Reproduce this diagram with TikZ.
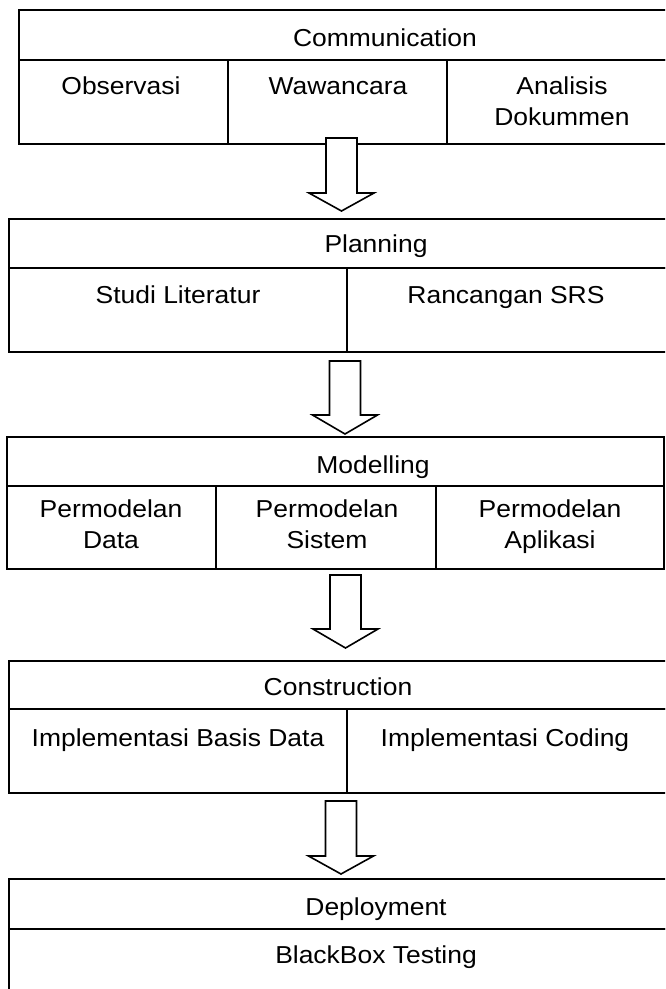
\documentclass[tikz,border=0pt]{standalone}
\usepackage{fontspec}
\setmainfont{Liberation Sans}[FakeStretch=1.08]
\begin{document}
\begin{tikzpicture}[x=1pt,y=-1pt,
  frame/.style={draw, line width=1.6pt, inner sep=0pt, outer sep=0pt, anchor=north west},
  lbl/.style={font=\fontsize{24.5}{31}\selectfont, inner sep=0pt, align=center},
  blockarrow/.style={draw, fill=white, line width=1.6pt, line join=miter},
  pics/downarrow/.style args={#1/#2}{code={
    \draw[blockarrow] (-15.5,0) -- (-15.5,#1) -- (-32.5,#1) -- (0,#2) -- (32.5,#1) -- (15.5,#1) -- (15.5,0) -- cycle;}}
]
\useasboundingbox (0,0) rectangle (665,989);
\clip (0,0) rectangle (665,989);
\fill[white] (0,0) rectangle (665,989);

% Communication
\node[frame, minimum width=741pt, minimum height=50pt] (comm) at (19,10) {};
\node[frame, minimum width=209pt, minimum height=84pt] (obs) at (19,60) {};
\node[frame, minimum width=219pt, minimum height=84pt] (waw) at (228,60) {};
\node[frame, minimum width=313pt, minimum height=84pt] (ana) at (447,60) {};
\node[lbl] (tcomm) at (385,40.6) {\strut Communication};
\node[lbl] (tobs) at (121,88.6) {\strut Observasi};
\node[lbl] (twaw) at (338,88.6) {\strut Wawancara};
\node[lbl] (tana) at (562,104.1) {\strut Analisis\\\strut Dokummen};

% Planning
\node[frame, minimum width=751pt, minimum height=49pt] (plan) at (9,219) {};
\node[frame, minimum width=338pt, minimum height=84pt] (studi) at (9,268) {};
\node[frame, minimum width=413pt, minimum height=84pt] (srs) at (347,268) {};
\node[lbl] (tplan) at (376,246.6) {\strut Planning};
\node[lbl] (tstudi) at (178,297.6) {\strut Studi Literatur};
\node[lbl] (tsrs) at (506,297.6) {\strut Rancangan SRS};

% Modelling
\node[frame, minimum width=657pt, minimum height=49pt] (model) at (7,437) {};
\node[frame, minimum width=209pt, minimum height=83pt] (mdata) at (7,486) {};
\node[frame, minimum width=220pt, minimum height=83pt] (msis) at (216,486) {};
\node[frame, minimum width=228pt, minimum height=83pt] (mapl) at (436,486) {};
\node[lbl] (tmodel) at (373,467.6) {\strut Modelling};
\node[lbl] (tmdata) at (111,527.1) {\strut Permodelan\\\strut Data};
\node[lbl] (tmsis) at (327,527.1) {\strut Permodelan\\\strut Sistem};
\node[lbl] (tmapl) at (550,527.1) {\strut Permodelan\\\strut Aplikasi};

% Construction
\node[frame, minimum width=751pt, minimum height=48pt] (cons) at (9,661) {};
\node[frame, minimum width=338pt, minimum height=84pt] (ibd) at (9,709) {};
\node[frame, minimum width=413pt, minimum height=84pt] (icod) at (347,709) {};
\node[lbl] (tcons) at (338,689.6) {\strut Construction};
\node[lbl] (tibd) at (178,740.6) {\strut Implementasi Basis Data};
\node[lbl] (ticod) at (505,740.6) {\strut Implementasi Coding};

% Deployment
\node[frame, minimum width=751pt, minimum height=50pt] (depl) at (9,879) {};
\node[frame, minimum width=751pt, minimum height=120pt] (bbt) at (9,929) {};
\node[lbl] (tdepl) at (376,909.6) {\strut Deployment};
\node[lbl] (tbbt) at (376,957.6) {\strut BlackBox Testing};

% arrows
\coordinate (a1) at (341.5,138);
\coordinate (a2) at (345,361);
\coordinate (a3) at (345.5,575);
\coordinate (a4) at (341,801);
\pic at (a1) {downarrow=55/73};
\pic at (a2) {downarrow=54/73};
\pic at (a3) {downarrow=54/73};
\pic at (a4) {downarrow=55/73};
\end{tikzpicture}
\end{document}
